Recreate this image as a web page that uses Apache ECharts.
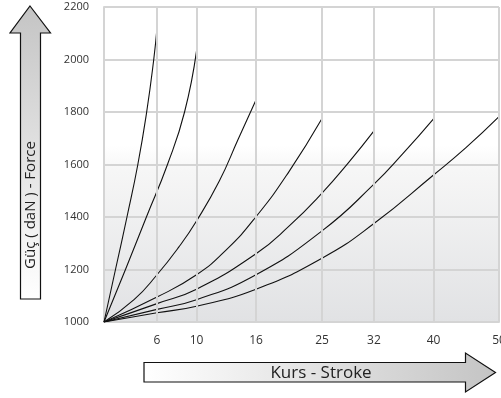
<!DOCTYPE html>
<html>
<head>
<meta charset="utf-8">
<script src="https://cdn.jsdelivr.net/npm/echarts@6/dist/echarts.min.js"></script>
<style>
html,body{margin:0;padding:0;background:#fff;}
#c{width:501px;height:398px;}
</style>
</head>
<body>
<div id="c"></div>
<script>
// Stroke tick labels (mm) and where each sits along the (non-linear) stroke axis, in % of axis width
const strokeTicks = [0, 6, 10, 16, 25, 32, 40, 50];
const tickPlace   = [0, 13.42, 23.42, 38.48, 55.19, 68.35, 83.42, 100];
const forceTicks  = [1000, 1200, 1400, 1600, 1800, 2000, 2200];

// Curves: [stroke (mm), force (daN)]
const curve6  = [[0,1000],[1.3,1200],[2.6,1400],[3.83,1600],[4.83,1800],[5.63,2000],[6,2120]];
const curve10 = [[0,1000],[2.43,1200],[4.8,1400],[7.06,1600],[8.79,1800],[10,2032]];
const curve16 = [[0,1000],[3.4,1085],[6,1180],[8.2,1285],[10,1385],[12.3,1537],[14.2,1696],[16,1846]];
const curve25 = [[0,1000],[6,1095],[10,1180],[13,1275],[16,1401],[20.5,1573],[25,1775]];
const curve32 = [[0,1000],[6,1070],[10,1125],[16,1260],[20.5,1365],[25,1491],[28.6,1608],[32,1728]];
const curve40 = [[0,1000],[6,1048],[10,1085],[16,1180],[25,1347],[32,1525],[36,1645],[40,1774]];
const curve50 = [[0,1000],[6,1035],[10,1060],[16,1125],[25,1243],[32,1375],[40,1560],[45,1665],[50,1782]];
const curves = [curve6, curve10, curve16, curve25, curve32, curve40, curve50];

function place(s) {
  for (let i = 0; i < strokeTicks.length - 1; i++) {
    const a = strokeTicks[i], b = strokeTicks[i + 1];
    if (s <= b) return tickPlace[i] + (s - a) / (b - a) * (tickPlace[i + 1] - tickPlace[i]);
  }
  return tickPlace[tickPlace.length - 1];
}

const chart = echarts.init(document.getElementById('c'), null, {renderer: 'canvas'});
const FONT = '"Open Sans", "DejaVu Sans", sans-serif';
const gridColor = '#d4d4d4';

const series = [{
  type: 'line',
  data: [],
  z: 1,
  silent: true,
  markLine: {
    silent: true,
    symbol: 'none',
    animation: false,
    lineStyle: {color: gridColor, width: 2, type: 'solid'},
    label: {
      show: true,
      position: 'start',
      distance: 13,
      color: '#333',
      fontSize: 12,
      fontFamily: FONT,
      formatter: p => String(strokeTicks[tickPlace.indexOf(p.value)])
    },
    data: strokeTicks.slice(1).map((t, i) => ({xAxis: tickPlace[i + 1]}))
  }
}];
curves.forEach(c => {
  series.push({
    type: 'line',
    z: 3,
    data: c.map(p => [place(p[0]), p[1]]),
    smooth: 0.5,
    showSymbol: false,
    silent: true,
    lineStyle: {color: '#111', width: 1.1}
  });
});

chart.setOption({
  animation: false,
  backgroundColor: '#fff',
  grid: {
    left: 104, top: 7, right: 2, bottom: 76,
    show: true, borderWidth: 0,
    backgroundColor: {
      type: 'linear', x: 0, y: 0, x2: 0, y2: 1,
      colorStops: [
        {offset: 0, color: '#ffffff'},
        {offset: 0.44, color: '#ffffff'},
        {offset: 0.52, color: '#f6f6f6'},
        {offset: 1, color: '#e1e2e4'}
      ]
    }
  },
  xAxis: {
    type: 'value', min: 0, max: 100,
    axisLine: {show: true, lineStyle: {color: gridColor, width: 2}},
    axisTick: {show: false},
    axisLabel: {show: false},
    splitLine: {show: false}
  },
  yAxis: {
    type: 'value', min: forceTicks[0], max: forceTicks[forceTicks.length - 1], interval: 200,
    axisLine: {show: true, lineStyle: {color: gridColor, width: 2}},
    axisTick: {show: false},
    axisLabel: {color: '#333', fontSize: 11, fontFamily: FONT, margin: 15, formatter: v => String(v)},
    splitLine: {show: true, lineStyle: {color: gridColor, width: 2}}
  },
  series: series,
  graphic: [
    {
      type: 'polygon',
      shape: {points: [[30,6],[50.5,33],[40.5,33],[40.5,299],[20.5,299],[20.5,33],[10,33]]},
      style: {
        fill: {type: 'linear', x: 0, y: 0, x2: 0, y2: 1, colorStops: [
          {offset: 0, color: '#c4c4c4'}, {offset: 1, color: '#ffffff'}]},
        stroke: '#111', lineWidth: 1.2
      }
    },
    {
      type: 'text',
      x: 31, y: 205, rotation: Math.PI / 2,
      style: {text: 'Güç ( daN ) - Force', fill: '#222', fontSize: 15, fontFamily: FONT,
              align: 'center', verticalAlign: 'middle'}
    },
    {
      type: 'polygon',
      shape: {points: [[144,362.5],[465.5,362.5],[465.5,353],[495.5,372.5],[465.5,392],[465.5,382],[144,382]]},
      style: {
        fill: {type: 'linear', x: 0, y: 0, x2: 1, y2: 0, colorStops: [
          {offset: 0, color: '#ffffff'}, {offset: 1, color: '#c4c4c4'}]},
        stroke: '#111', lineWidth: 1.2
      }
    },
    {
      type: 'text',
      x: 321, y: 373,
      style: {text: 'Kurs - Stroke', fill: '#222', fontSize: 17, fontFamily: FONT,
              align: 'center', verticalAlign: 'middle'}
    }
  ]
});
</script>
</body>
</html>
